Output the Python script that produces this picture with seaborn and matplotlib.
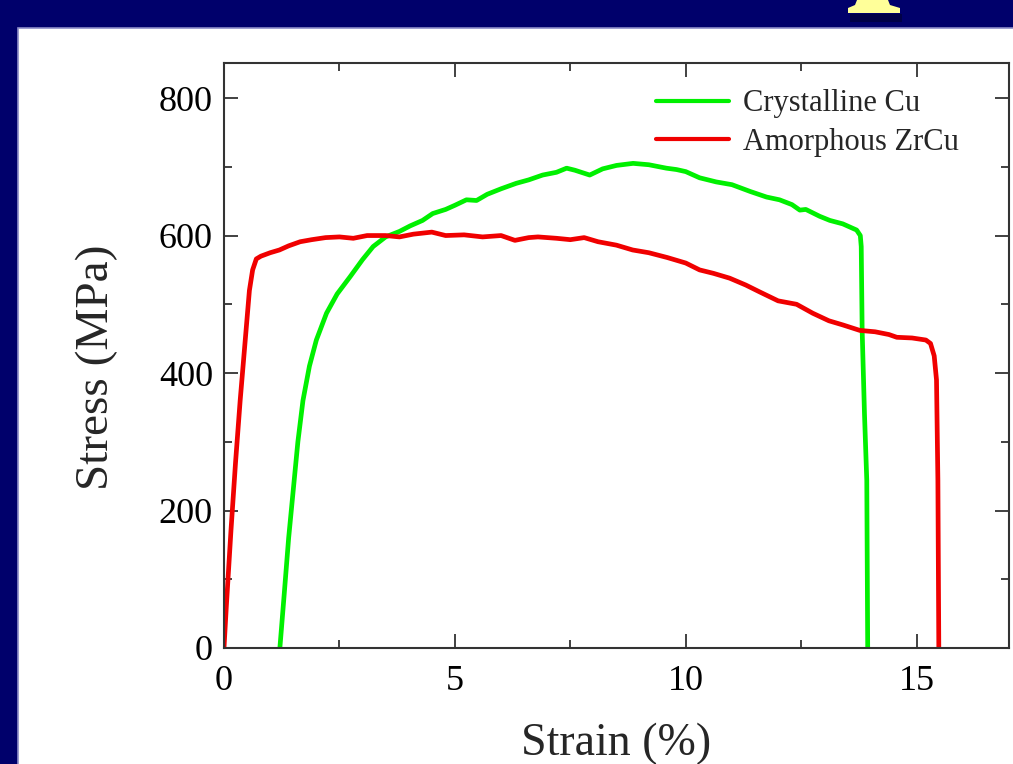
import numpy as np
import pandas as pd
import seaborn as sns
import matplotlib.pyplot as plt
from matplotlib.patches import Rectangle, Polygon
from matplotlib.ticker import MultipleLocator

# valores (strain %, stress MPa)
cu_strain = [1.21, 1.3, 1.4, 1.5, 1.6, 1.71, 1.85, 2.0, 2.22, 2.45, 2.73, 3.0, 3.23, 3.5,
             3.8, 4.03, 4.3, 4.52, 4.8, 5.0, 5.25, 5.47, 5.7, 6.0, 6.33, 6.6, 6.9, 7.2,
             7.42, 7.6, 7.92, 8.2, 8.5, 8.86, 9.2, 9.58, 9.8, 10.0, 10.3, 10.66, 11.0,
             11.4, 11.75, 12.03, 12.3, 12.47, 12.6, 12.9, 13.12, 13.4, 13.7, 13.78,
             13.8, 13.82, 13.87, 13.92, 13.94]
cu_stress = [0, 75, 160, 230, 300, 360, 410, 448, 487, 515, 540, 565, 584, 598,
             606, 614, 622, 632, 638, 644, 652, 651, 660, 668, 676, 681, 688, 692,
             698, 695, 688, 697, 702, 705, 703, 698, 696, 693, 684, 678, 674,
             664, 656, 652, 645, 637, 638, 628, 622, 617, 608, 600,
             584, 462, 341, 244, 0]

zrcu_strain = [0, 0.05, 0.15, 0.25, 0.35, 0.45, 0.55, 0.62, 0.7, 0.8, 1.0, 1.2, 1.4,
               1.65, 1.9, 2.2, 2.5, 2.8, 3.1, 3.5, 3.8, 4.1, 4.5, 4.8, 5.2, 5.6, 6.0,
               6.3, 6.6, 6.8, 7.2, 7.5, 7.8, 8.1, 8.5, 8.85, 9.2, 9.6, 10.0, 10.3,
               10.6, 10.95, 11.3, 11.6, 12.0, 12.4, 12.75, 13.1, 13.4, 13.77, 14.1,
               14.4, 14.57, 14.9, 15.2, 15.3, 15.38, 15.43, 15.46, 15.48]
zrcu_stress = [0, 60, 170, 270, 360, 440, 520, 550, 566, 570, 575, 579, 585,
               591, 594, 597, 598, 596, 600, 600, 598, 602, 605, 600, 601, 598, 600,
               593, 597, 598, 596, 594, 597, 591, 586, 579, 575, 568, 560, 550,
               545, 538, 528, 518, 505, 500, 487, 476, 470, 462, 460,
               456, 452, 451, 448, 443, 425, 390, 244, 0]

df = pd.concat([
    pd.DataFrame({"strain": cu_strain, "stress": cu_stress, "sample": "Crystalline Cu"}),
    pd.DataFrame({"strain": zrcu_strain, "stress": zrcu_stress, "sample": "Amorphous ZrCu"}),
])

sns.set_style("ticks")
plt.rcParams["font.family"] = ["Liberation Serif", "DejaVu Serif"]

fig = plt.figure(figsize=(10.13, 7.64), dpi=100, facecolor="#00006B")
# panel blanco de la diapositiva
fig.patches.append(Rectangle((18 / 1013, -0.05), 1.1, 0.05 + 736 / 764,
                             transform=fig.transFigure, facecolor="white",
                             edgecolor="#8C8CC8", lw=1.2, zorder=-3))
# resto de la letra amarilla del titulo
fig.patches.append(Rectangle((850 / 1013, 1 - 22 / 764), 52 / 1013, 8 / 764,
                             transform=fig.transFigure, facecolor="#000030",
                             edgecolor="none", alpha=0.6, zorder=-2))
fig.patches.append(Polygon([(848 / 1013, 1 - 13 / 764), (900 / 1013, 1 - 13 / 764),
                            (900 / 1013, 1 - 8 / 764), (890 / 1013, 1 - 5 / 764),
                            (888 / 1013, 1.0), (857 / 1013, 1.0), (855 / 1013, 1 - 5 / 764),
                            (848 / 1013, 1 - 8 / 764)],
                           closed=True, transform=fig.transFigure,
                           facecolor="#FFFF99", edgecolor="none", zorder=-1))

ax = fig.add_axes([224 / 1013, 1 - 648 / 764, 785 / 1013, 585 / 764])
ax.set_facecolor("none")
sns.lineplot(data=df, x="strain", y="stress", hue="sample", sort=False,
             estimator=None, palette=["#00F000", "#F00000"], lw=3.4, ax=ax)

ax.set_xlim(0, 17)
ax.set_ylim(0, 851)
ax.xaxis.set_major_locator(MultipleLocator(5))
ax.xaxis.set_minor_locator(MultipleLocator(2.5))
ax.yaxis.set_major_locator(MultipleLocator(200))
ax.yaxis.set_minor_locator(MultipleLocator(100))
ax.tick_params(which="both", direction="in", top=True, right=True,
               colors="#333333", labelcolor="black", labelsize=26, width=1.3)
ax.tick_params(which="major", length=10)
ax.tick_params(which="minor", length=6)
ax.tick_params(axis="x", which="major", pad=12)
ax.tick_params(axis="y", which="major", pad=8)
for s in ax.spines.values():
    s.set_color("#333333")
    s.set_linewidth(1.5)

ax.set_xlabel("Strain (%)", fontsize=33, labelpad=18)
ax.set_ylabel("Stress (MPa)", fontsize=34)
ax.yaxis.set_label_coords(-0.135, 0.48)

leg = ax.legend(loc="upper right", bbox_to_anchor=(0.9516, 0.976), frameon=False,
                fontsize=22, handlelength=2.4, handletextpad=0.45,
                labelspacing=0.31, borderaxespad=0)
for h in leg.get_lines():
    h.set_linewidth(3)

fig.savefig("out.png", dpi=100, facecolor=fig.get_facecolor())
